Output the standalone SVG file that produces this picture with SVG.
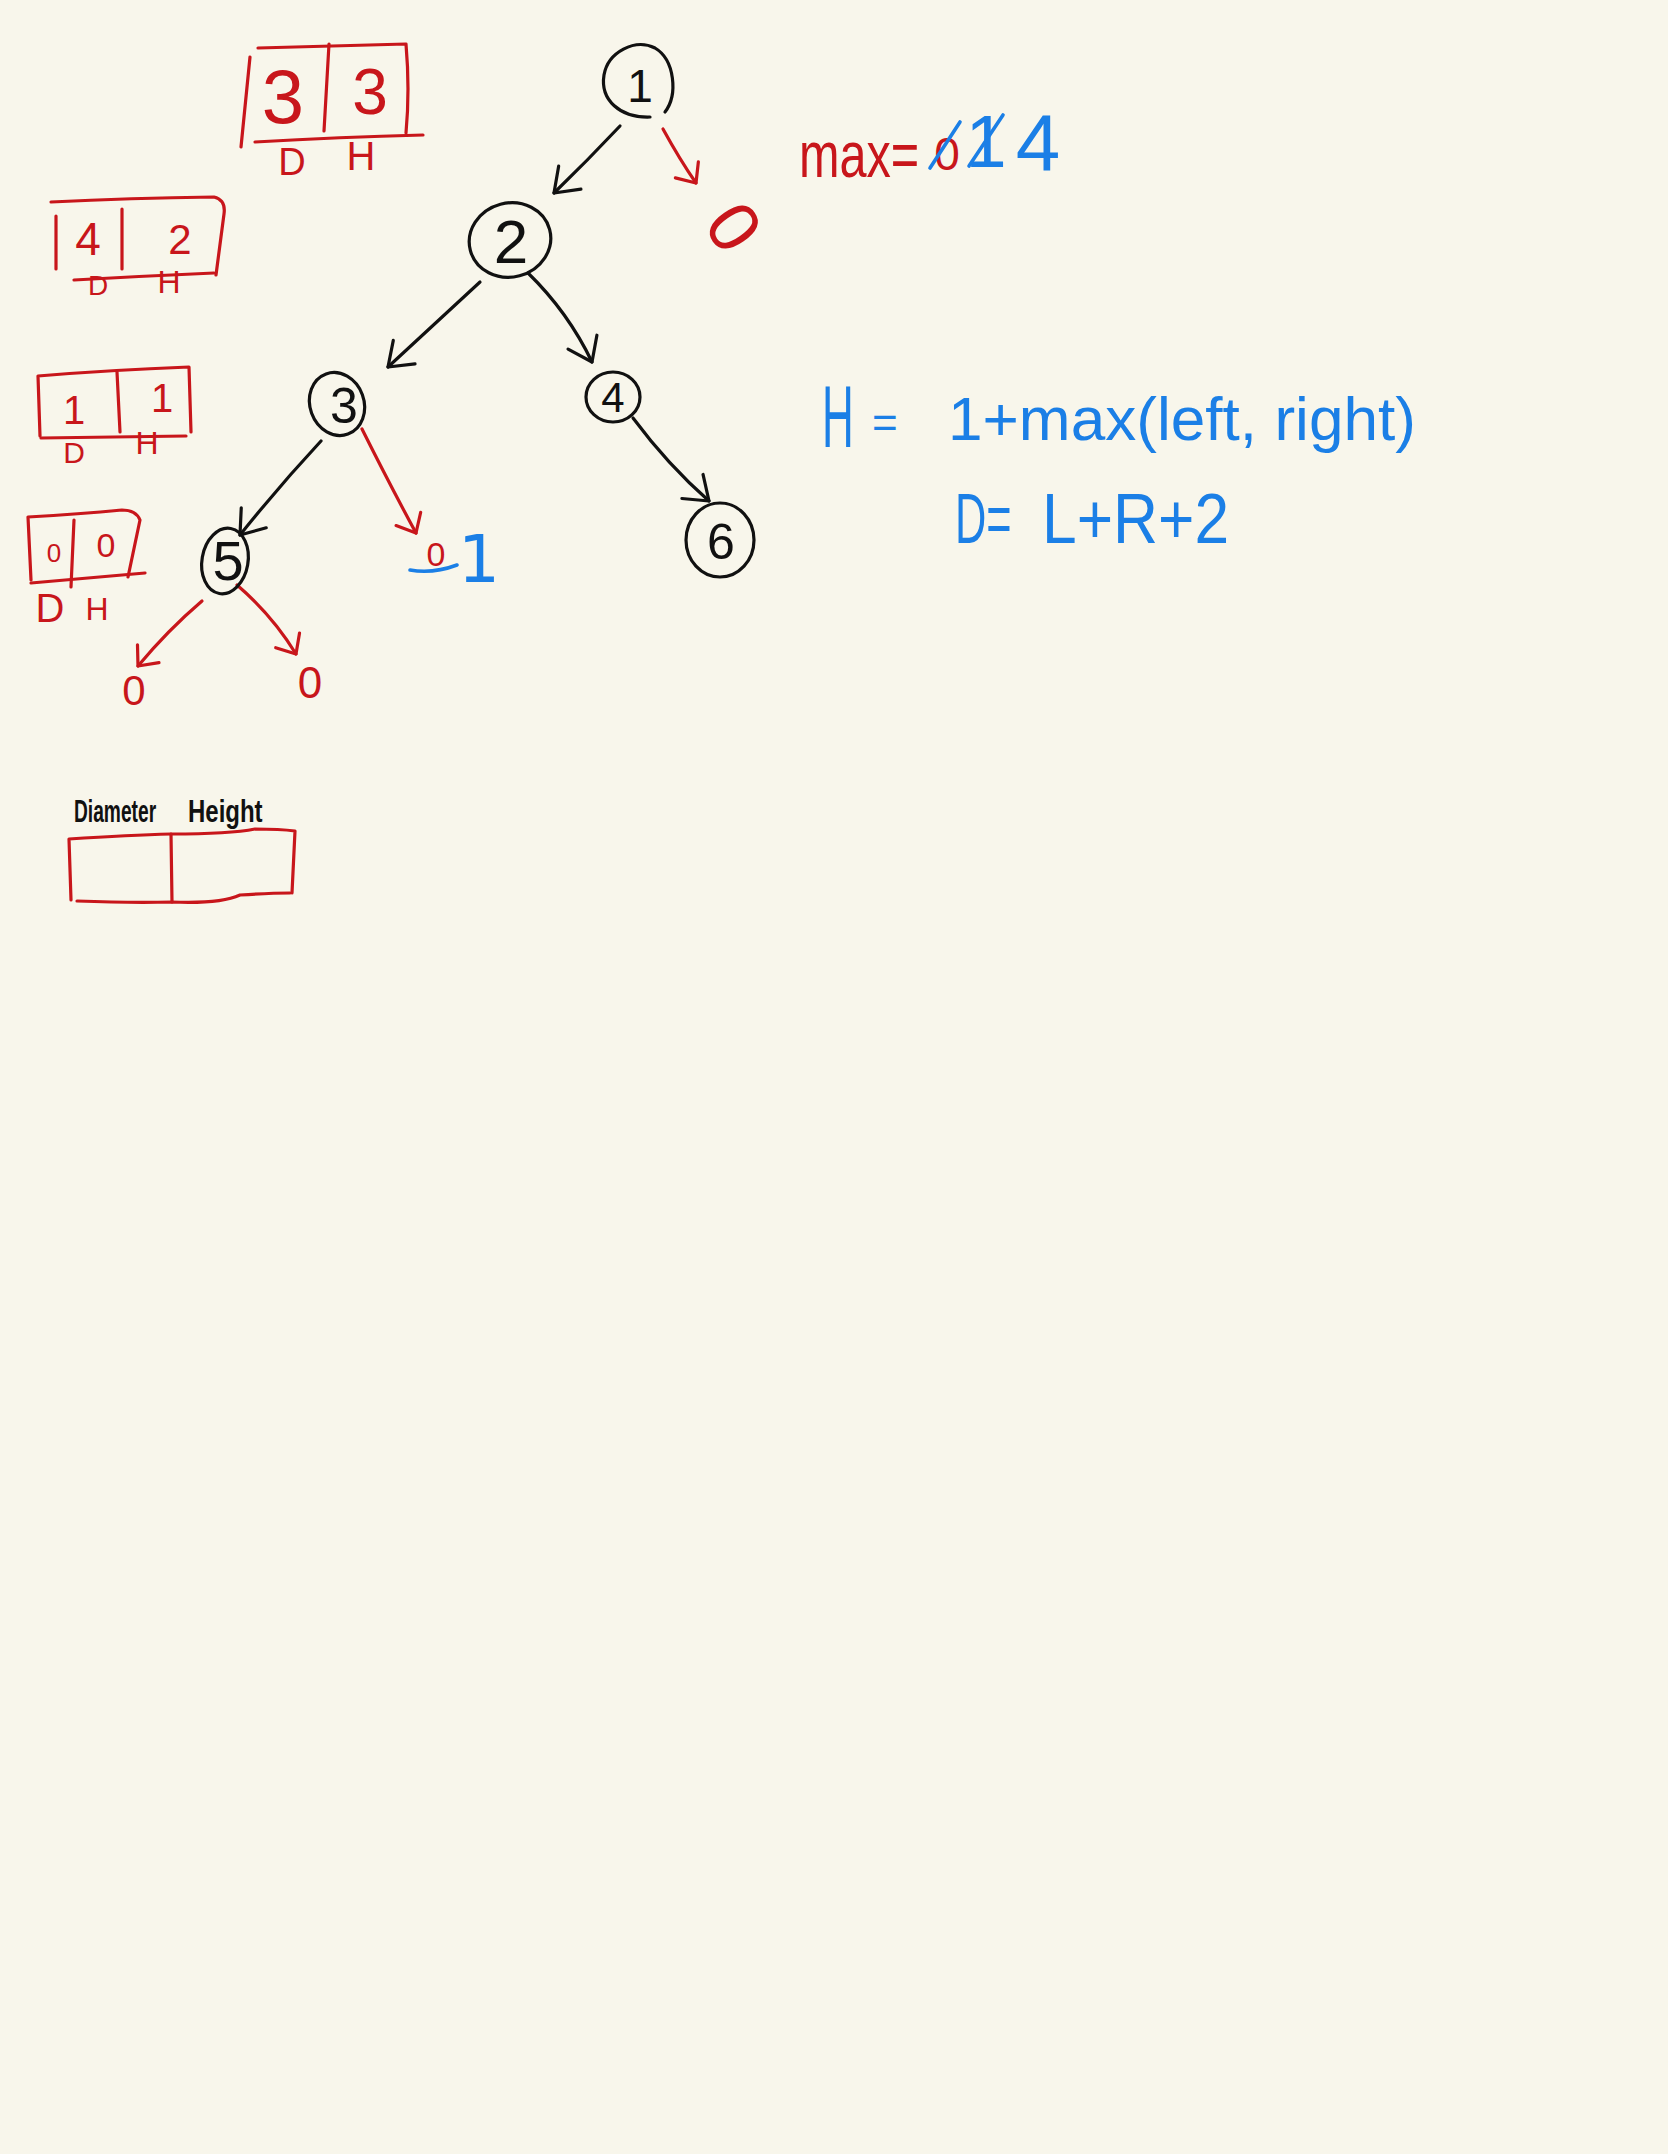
<svg xmlns="http://www.w3.org/2000/svg" width="1668" height="2154" viewBox="0 0 1668 2154">
<style>
.bg{fill:#F8F6EB}
.nb{fill:none;stroke:#111;stroke-width:3.2;stroke-linecap:round;stroke-linejoin:round}
.r{fill:none;stroke:#C8161B;stroke-width:3.2;stroke-linecap:round;stroke-linejoin:round}
.bl{fill:none;stroke:#1B7FE6;stroke-width:3.6;stroke-linecap:round;stroke-linejoin:round}
.tk{font-family:"Liberation Sans",Arial,sans-serif;fill:#111;text-anchor:middle}
.tr{font-family:"Liberation Sans",Arial,sans-serif;fill:#C8161B}
.tb{font-family:"Liberation Sans",Arial,sans-serif;fill:#1B7FE6}
.lg{font-family:"Liberation Sans",Arial,sans-serif;fill:#111;font-weight:bold}
</style>
<defs>
<marker id="ak" markerUnits="userSpaceOnUse" markerWidth="40" markerHeight="40" refX="0" refY="0" viewBox="-30 -20 40 40" orient="auto">
<path d="M -22 -16 L 0 0 L -22 16" fill="none" stroke="#111" stroke-width="3.2" stroke-linecap="round" stroke-linejoin="round"/>
</marker>
<marker id="ar" markerUnits="userSpaceOnUse" markerWidth="40" markerHeight="40" refX="0" refY="0" viewBox="-30 -20 40 40" orient="auto">
<path d="M -16 -14 L 0 0 L -16 14" fill="none" stroke="#C8161B" stroke-width="3.2" stroke-linecap="round" stroke-linejoin="round"/>
</marker>
</defs>
<rect class="bg" x="0" y="0" width="1668" height="2154"/>

<g id="connectors">
<path class="nb" d="M 620 126 Q 588 160 554 193" marker-end="url(#ak)"/>
<path class="r" d="M 663 129 Q 680 160 696 183" marker-end="url(#ar)"/>
<path class="nb" d="M 480 282 L 388 367" marker-end="url(#ak)"/>
<path class="nb" d="M 528 273 Q 568 312 592 362" marker-end="url(#ak)"/>
<path class="nb" d="M 321 441 Q 280 485 240 535" marker-end="url(#ak)"/>
<path class="r" d="M 362 429 Q 390 485 416 533" marker-end="url(#ar)"/>
<path class="nb" d="M 633 418 Q 668 465 709 501" marker-end="url(#ak)"/>
<path class="r" d="M 202 601 Q 168 630 138 666" marker-end="url(#ar)"/>
<path class="r" d="M 237 585 Q 272 615 296 654" marker-end="url(#ar)"/>
</g>

<g id="node1">
<path class="nb" d="M 665 112 C 678 95 675 60 655 48 C 635 38 608 52 604 75 C 600 100 620 118 650 117"/>
<text class="tk" x="640" y="102" font-size="46">1</text>
</g>
<g id="node2">
<ellipse class="nb" cx="510" cy="240" rx="41" ry="37" transform="rotate(-15 510 240)"/>
<text class="tk" x="511" y="263" font-size="62">2</text>
</g>
<g id="node3">
<ellipse class="nb" cx="337" cy="404" rx="27" ry="32" transform="rotate(-20 337 404)"/>
<text class="tk" x="344" y="423" font-size="50">3</text>
</g>
<g id="node4">
<ellipse class="nb" cx="613" cy="397" rx="27" ry="25"/>
<text class="tk" x="613" y="412" font-size="42">4</text>
</g>
<g id="node5">
<ellipse class="nb" cx="225" cy="561" rx="23" ry="33" transform="rotate(10 225 561)"/>
<text class="tk" x="228" y="580" font-size="56">5</text>
</g>
<g id="node6">
<ellipse class="nb" cx="720" cy="540" rx="34" ry="37"/>
<text class="tk" x="721" y="559" font-size="50">6</text>
</g>

<g id="null-labels">
<text class="tr" x="734" y="252" font-size="72" text-anchor="middle" transform="rotate(55 734 227)">0</text>
<text class="tr" x="436" y="566" font-size="34" text-anchor="middle">0</text>
<path class="bl" d="M 410 570 Q 433 574 457 565"/>
<text class="tb" x="479" y="582" font-size="66" text-anchor="middle" style="font-family:'DejaVu Sans',sans-serif">1</text>
<text class="tr" x="134" y="705" font-size="42" text-anchor="middle">0</text>
<text class="tr" x="310" y="698" font-size="44" text-anchor="middle">0</text>
</g>

<g id="box-root">
<path class="r" d="M 250 57 L 241 147"/>
<path class="r" d="M 258 48 Q 330 46 406 44 Q 410 90 406 133"/>
<path class="r" d="M 329 44 L 324 131"/>
<path class="r" d="M 255 142 Q 340 137 423 135"/>
<text class="tr" x="283" y="123" font-size="76" text-anchor="middle">3</text>
<text class="tr" x="370" y="114" font-size="64" text-anchor="middle">3</text>
<text class="tr" x="292" y="175" font-size="38" text-anchor="middle">D</text>
<text class="tr" x="361" y="170" font-size="40" text-anchor="middle">H</text>
</g>
<g id="box-2">
<path class="r" d="M 51 202 Q 130 198 214 197 Q 226 200 224 214 L 216 275"/>
<path class="r" d="M 56 216 L 56 269"/>
<path class="r" d="M 122 209 L 122 269"/>
<path class="r" d="M 74 280 Q 145 276 214 273"/>
<text class="tr" x="88" y="255" font-size="46" text-anchor="middle">4</text>
<text class="tr" x="180" y="254" font-size="42" text-anchor="middle">2</text>
<text class="tr" x="98" y="295" font-size="28" text-anchor="middle">D</text>
<text class="tr" x="169" y="293" font-size="32" text-anchor="middle">H</text>
</g>
<g id="box-3">
<path class="r" d="M 40 436 L 38 376 Q 110 370 189 367 L 191 432"/>
<path class="r" d="M 117 372 L 120 432"/>
<path class="r" d="M 41 438 Q 110 437 186 436"/>
<text class="tr" x="74" y="424" font-size="40" text-anchor="middle">1</text>
<text class="tr" x="162" y="412" font-size="40" text-anchor="middle">1</text>
<text class="tr" x="74" y="463" font-size="30" text-anchor="middle">D</text>
<text class="tr" x="147" y="454" font-size="32" text-anchor="middle">H</text>
</g>
<g id="box-4">
<path class="r" d="M 31 580 L 28 517 Q 80 514 122 510 Q 136 510 140 520 L 128 577"/>
<path class="r" d="M 74 520 L 71 587"/>
<path class="r" d="M 31 583 Q 90 578 145 573"/>
<text class="tr" x="54" y="562" font-size="26" text-anchor="middle">0</text>
<text class="tr" x="106" y="557" font-size="34" text-anchor="middle">0</text>
<text class="tr" x="50" y="622" font-size="40" text-anchor="middle">D</text>
<text class="tr" x="97" y="620" font-size="32" text-anchor="middle">H</text>
</g>

<g id="max-note">
<text class="tr" font-size="64" transform="translate(799 177) scale(0.76 1)">max=</text>
<text class="tr" x="947" y="170" font-size="46" text-anchor="middle">0</text>
<path class="bl" d="M 930 168 L 960 122"/>
<text class="tb" x="986" y="167" font-size="74" text-anchor="middle">1</text>
<path class="bl" d="M 969 166 L 1003 115"/>
<text class="tb" x="1038" y="170" font-size="80" text-anchor="middle">4</text>
</g>

<g id="formulas">
<text class="tb" font-size="88" transform="translate(822 447) scale(0.5 1)">H</text>
<text class="tb" x="872" y="438" font-size="44">=</text>
<text class="tb" x="948" y="440" font-size="62" textLength="468" lengthAdjust="spacingAndGlyphs">1+max(left, right)</text>
<text class="tb" font-size="70" transform="translate(955 543) scale(0.62 1)">D=</text>
<text class="tb" font-size="70" transform="translate(1042 543) scale(0.89 1)">L+R+2</text>
</g>

<g id="legend">
<text class="lg" font-size="32" transform="translate(74 822) scale(0.6 1)">Diameter</text>
<text class="lg" font-size="32" transform="translate(188 822) scale(0.75 1)">Height</text>
<path class="r" d="M 71 900 L 69 839 Q 130 835 171 834 Q 230 834 255 829 Q 280 829 295 831 L 292 893"/>
<path class="r" d="M 171 834 L 172 902"/>
<path class="r" d="M 77 901 Q 130 903 172 902 Q 220 904 240 895 Q 270 893 290 893"/>
</g>
</svg>
